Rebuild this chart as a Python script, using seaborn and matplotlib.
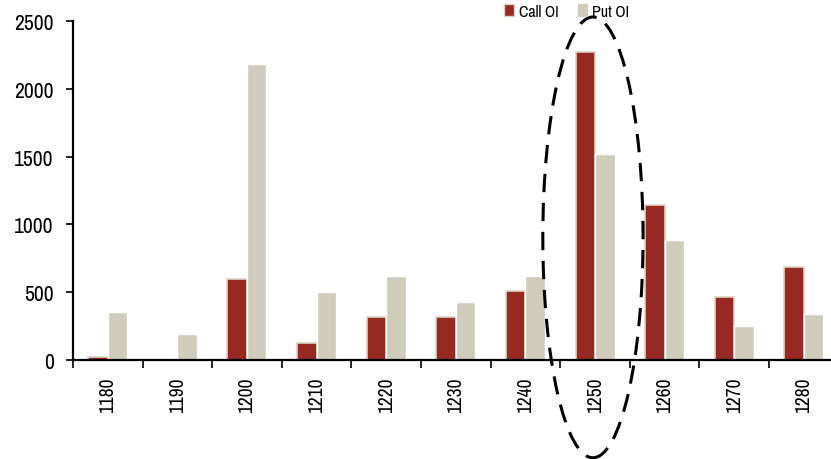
import matplotlib
matplotlib.use("Agg")
import matplotlib.pyplot as plt
from matplotlib.patches import Ellipse, Patch
import seaborn as sns
import pandas as pd
from matplotlib import font_manager

strikes = ["1180", "1190", "1200", "1210", "1220", "1230", "1240", "1250", "1260", "1270", "1280"]
call_oi = [20, 0, 600, 125, 320, 320, 510, 2275, 1145, 465, 685]
put_oi = [355, 195, 2185, 502, 620, 428, 620, 1520, 885, 253, 340]
series_names = ["Call OI", "Put OI"]
colors = ["#962A22", "#D0CCBB"]

# pick a narrow sans face for the labels
installed = {f.name for f in font_manager.fontManager.ttflist}
candidates = ["Liberation Sans Narrow", "Archivo Narrow", "PT Sans Narrow",
              "Roboto Condensed", "Arimo", "Open Sans Condensed", "DejaVu Sans"]
narrow = next(c for c in candidates if c in installed)

sns.set_style("white")
plt.rcParams["font.family"] = [narrow, "DejaVu Sans"]
plt.rcParams["text.color"] = "black"
plt.rcParams["xtick.color"] = "black"
plt.rcParams["ytick.color"] = "black"

df = pd.DataFrame({
    "strike": strikes * 2,
    "oi": call_oi + put_oi,
    "series": [series_names[0]] * len(strikes) + [series_names[1]] * len(strikes),
})

fig = plt.figure(figsize=(8.31, 4.60), dpi=100)
ax = fig.add_axes([0.0878, 0.215, 0.9122, 0.737])

sns.barplot(data=df, x="strike", y="oi", hue="series", order=strikes,
            hue_order=series_names, palette=colors, width=0.56,
            saturation=1, ax=ax, legend=False)

# light outline around the call bars
for bar in ax.patches[:len(strikes)]:
    bar.set_edgecolor("#D9D4C4")
    bar.set_linewidth(1.2)

ax.set_xlim(-0.5, 10.39)
ax.set_ylim(0, 2500)
ax.set_yticks(range(0, 2501, 500))
ax.set_xlabel("")
ax.set_ylabel("")

for side in ["top", "right"]:
    ax.spines[side].set_visible(False)
for side in ["left", "bottom"]:
    ax.spines[side].set_color("black")
    ax.spines[side].set_linewidth(1.6)

ax.tick_params(axis="y", which="major", direction="out", length=5, width=1.2,
               color="black", labelsize=15.5, pad=9, left=True)
# x labels at category centers, tick marks on category boundaries
ax.tick_params(axis="x", which="major", length=0, labelsize=14, pad=12,
               labelrotation=90)
ax.set_xticks([i - 0.5 for i in range(0, len(strikes))], minor=True)
ax.tick_params(axis="x", which="minor", direction="out", length=6, width=1.2,
               color="black", bottom=True)

handles = [Patch(facecolor=colors[0], edgecolor="#D9D4C4", linewidth=1),
           Patch(facecolor=colors[1], edgecolor=colors[1])]
fig.legend(handles, series_names, loc="upper left", bbox_to_anchor=(0.607, 0.99),
           ncol=2, frameon=False, fontsize=11.5, handlelength=0.6, handleheight=0.7,
           handletextpad=0.3, columnspacing=1.2, borderaxespad=0, borderpad=0)

# dashed ellipse around the 1250 strike
ell = Ellipse((6.97, 905), width=1.44, height=3250, angle=0, fill=False,
              edgecolor="black", linewidth=2.2, linestyle=(0, (6, 3.5)), clip_on=False)
ax.add_patch(ell)

fig.savefig("out.png", dpi=100)
